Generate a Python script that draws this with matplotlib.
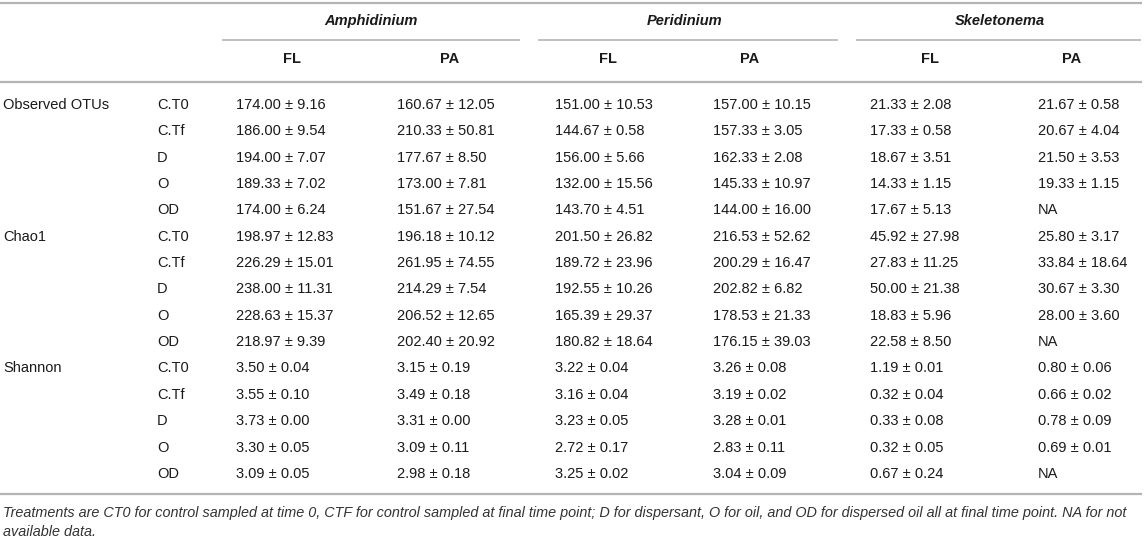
import numpy as np
import matplotlib
matplotlib.use('Agg')
import matplotlib.pyplot as plt

plt.rcParams['font.family'] = ['Liberation Sans', 'DejaVu Sans']

species = ['Amphidinium', 'Peridinium', 'Skeletonema']
fractions = ['FL', 'PA']
metrics = ['Observed OTUs', 'Chao1', 'Shannon']
treatments = ['C.T0', 'C.Tf', 'D', 'O', 'OD']

nan = np.nan
amph_fl_mean = [174.00, 186.00, 194.00, 189.33, 174.00, 198.97, 226.29, 238.00, 228.63, 218.97, 3.50, 3.55, 3.73, 3.30, 3.09]
amph_fl_sd = [9.16, 9.54, 7.07, 7.02, 6.24, 12.83, 15.01, 11.31, 15.37, 9.39, 0.04, 0.10, 0.00, 0.05, 0.05]
amph_pa_mean = [160.67, 210.33, 177.67, 173.00, 151.67, 196.18, 261.95, 214.29, 206.52, 202.40, 3.15, 3.49, 3.31, 3.09, 2.98]
amph_pa_sd = [12.05, 50.81, 8.50, 7.81, 27.54, 10.12, 74.55, 7.54, 12.65, 20.92, 0.19, 0.18, 0.00, 0.11, 0.18]
peri_fl_mean = [151.00, 144.67, 156.00, 132.00, 143.70, 201.50, 189.72, 192.55, 165.39, 180.82, 3.22, 3.16, 3.23, 2.72, 3.25]
peri_fl_sd = [10.53, 0.58, 5.66, 15.56, 4.51, 26.82, 23.96, 10.26, 29.37, 18.64, 0.04, 0.04, 0.05, 0.17, 0.02]
peri_pa_mean = [157.00, 157.33, 162.33, 145.33, 144.00, 216.53, 200.29, 202.82, 178.53, 176.15, 3.26, 3.19, 3.28, 2.83, 3.04]
peri_pa_sd = [10.15, 3.05, 2.08, 10.97, 16.00, 52.62, 16.47, 6.82, 21.33, 39.03, 0.08, 0.02, 0.01, 0.11, 0.09]
skel_fl_mean = [21.33, 17.33, 18.67, 14.33, 17.67, 45.92, 27.83, 50.00, 18.83, 22.58, 1.19, 0.32, 0.33, 0.32, 0.67]
skel_fl_sd = [2.08, 0.58, 3.51, 1.15, 5.13, 27.98, 11.25, 21.38, 5.96, 8.50, 0.01, 0.04, 0.08, 0.05, 0.24]
skel_pa_mean = [21.67, 20.67, 21.50, 19.33, nan, 25.80, 33.84, 30.67, 28.00, nan, 0.80, 0.66, 0.78, 0.69, nan]
skel_pa_sd = [0.58, 4.04, 3.53, 1.15, nan, 3.17, 18.64, 3.30, 3.60, nan, 0.06, 0.02, 0.09, 0.01, nan]

footnote_lines = [
    'Treatments are CT0 for control sampled at time 0, CTF for control sampled at final time point; '
    'D for dispersant, O for oil, and OD for dispersed oil all at final time point. NA for not',
    'available data.',
]

columns = [(amph_fl_mean, amph_fl_sd), (amph_pa_mean, amph_pa_sd),
           (peri_fl_mean, peri_fl_sd), (peri_pa_mean, peri_pa_sd),
           (skel_fl_mean, skel_fl_sd), (skel_pa_mean, skel_pa_sd)]


def fmt(m, s):
    if np.isnan(m):
        return 'NA'
    return '%.2f \u00b1 %.2f' % (m, s)


W, H = 1145, 541
fig = plt.figure(figsize=(W / 100, H / 100), dpi=100)
ax = fig.add_axes([0, 0, 1, 1])
ax.set_xlim(0, W)
ax.set_ylim(H, 0)
ax.axis('off')

txt = '#1a1a1a'
line = '#b4b4b4'
fs = 10.5

# layout in pixel coords
data_x = [236, 397, 555, 713, 870, 1038]
head_x = [292, 450, 608, 750, 930, 1072]
title_x = [371, 685, 1000]
spans = [(222, 520), (538, 838), (856, 1141)]
row0, dy = 105, 26.35

ax.hlines(3, 0, 1142, color=line, lw=1.6)
for (a, b), sp, tx in zip(spans, species, title_x):
    ax.text(tx, 21, sp, ha='center', va='center', fontsize=fs,
            fontweight='bold', style='italic', color=txt)
    ax.hlines(40, a, b, color=line, lw=1.2)
for i, hx in enumerate(head_x):
    ax.text(hx, 59, fractions[i % 2], ha='center', va='center', fontsize=fs,
            fontweight='bold', color=txt)
ax.hlines(82, 0, 1142, color=line, lw=1.6)

for r in range(15):
    y = row0 + r * dy
    if r % 5 == 0:
        ax.text(3, y, metrics[r // 5], ha='left', va='center', fontsize=fs, color=txt)
    ax.text(157, y, treatments[r % 5], ha='left', va='center', fontsize=fs, color=txt)
    for (means, sds), x in zip(columns, data_x):
        ax.text(x, y, fmt(means[r], sds[r]), ha='left', va='center', fontsize=fs, color=txt)

ax.hlines(494, 0, 1142, color=line, lw=1.6)
for k, ln in enumerate(footnote_lines):
    ax.text(3, 513 + 19.5 * k, ln, ha='left', va='center', fontsize=10.4,
            style='italic', color='#333333')

fig.savefig('out.png', dpi=100)
